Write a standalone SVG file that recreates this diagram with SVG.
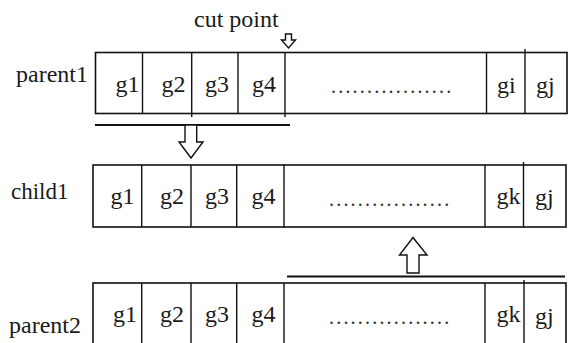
<svg xmlns="http://www.w3.org/2000/svg" width="570" height="343" viewBox="0 0 570 343">
<style>
.box{fill:#fff;stroke:#111;stroke-width:1.6}
.div{stroke:#111;stroke-width:1.4}
.bar{stroke:#111;stroke-width:2}
.arr{fill:#fff;stroke:#111;stroke-width:1.4;stroke-linejoin:miter}
</style>
<rect width="570" height="343" fill="#fff"/>
<g id="cutpoint">
<text x="194" y="27" font-family="Liberation Serif" font-size="24" fill="#1a1a1a">cut point</text>
<path class="arr" d="M285.5,34 H291.5 V40 H295.5 L288.5,48 L281.5,40 H285.5 Z"/>
</g>
<g id="parent1">
<text x="16" y="82" font-family="Liberation Serif" font-size="24" fill="#1a1a1a">parent1</text>
<rect class="box" x="95.5" y="52.5" width="471.5" height="61"/>
<line class="div" x1="142.5" y1="52.5" x2="142.5" y2="113.5"/>
<line class="div" x1="191.7" y1="52.5" x2="191.7" y2="117"/>
<line class="div" x1="238" y1="52.5" x2="238" y2="113.5"/>
<line class="div" x1="285" y1="52.5" x2="285" y2="117"/>
<line class="div" x1="486.5" y1="52.5" x2="486.5" y2="113.5"/>
<line class="div" x1="525" y1="49" x2="525" y2="113.5"/>
<text x="115.5" y="92" font-family="Liberation Serif" font-size="24" fill="#1a1a1a">g1</text>
<text x="161.5" y="92" font-family="Liberation Serif" font-size="24" fill="#1a1a1a">g2</text>
<text x="205" y="92" font-family="Liberation Serif" font-size="24" fill="#1a1a1a">g3</text>
<text x="252" y="92" font-family="Liberation Serif" font-size="24" fill="#1a1a1a">g4</text>
<text x="331" y="93" font-family="Liberation Serif" font-size="20" letter-spacing="2.2" fill="#333">.................</text>
<text x="497" y="93" font-family="Liberation Serif" font-size="24" fill="#1a1a1a">gi</text>
<text x="536" y="93" font-family="Liberation Serif" font-size="24" fill="#1a1a1a">gj</text>
</g>
<g id="child1">
<text x="11" y="199" font-family="Liberation Serif" font-size="23" fill="#1a1a1a">child1</text>
<rect class="box" x="93" y="165" width="473" height="62"/>
<line class="div" x1="141.7" y1="165" x2="141.7" y2="227"/>
<line class="div" x1="191" y1="165" x2="191" y2="227"/>
<line class="div" x1="236.7" y1="165" x2="236.7" y2="227"/>
<line class="div" x1="284" y1="165" x2="284" y2="227"/>
<line class="div" x1="485" y1="165" x2="485" y2="227"/>
<line class="div" x1="523.5" y1="162" x2="523.5" y2="227"/>
<text x="110.5" y="204" font-family="Liberation Serif" font-size="24" fill="#1a1a1a">g1</text>
<text x="160" y="204" font-family="Liberation Serif" font-size="24" fill="#1a1a1a">g2</text>
<text x="205" y="204" font-family="Liberation Serif" font-size="24" fill="#1a1a1a">g3</text>
<text x="251.5" y="204" font-family="Liberation Serif" font-size="24" fill="#1a1a1a">g4</text>
<text x="329" y="206" font-family="Liberation Serif" font-size="20" letter-spacing="2.2" fill="#333">.................</text>
<text x="496.5" y="204" font-family="Liberation Serif" font-size="24" fill="#1a1a1a">gk</text>
<text x="535" y="205" font-family="Liberation Serif" font-size="24" fill="#1a1a1a">gj</text>
</g>
<g id="parent2">
<text x="9" y="333" font-family="Liberation Serif" font-size="24" fill="#1a1a1a">parent2</text>
<rect class="box" x="93" y="283" width="473" height="64"/>
<line class="div" x1="141.7" y1="283" x2="141.7" y2="347"/>
<line class="div" x1="191" y1="283" x2="191" y2="347"/>
<line class="div" x1="236.7" y1="283" x2="236.7" y2="347"/>
<line class="div" x1="284" y1="283" x2="284" y2="347"/>
<line class="div" x1="485" y1="283" x2="485" y2="347"/>
<line class="div" x1="524" y1="280" x2="524" y2="347"/>
<text x="113" y="322" font-family="Liberation Serif" font-size="24" fill="#1a1a1a">g1</text>
<text x="160" y="322" font-family="Liberation Serif" font-size="24" fill="#1a1a1a">g2</text>
<text x="205" y="322" font-family="Liberation Serif" font-size="24" fill="#1a1a1a">g3</text>
<text x="251.5" y="322" font-family="Liberation Serif" font-size="24" fill="#1a1a1a">g4</text>
<text x="329" y="324" font-family="Liberation Serif" font-size="20" letter-spacing="2.2" fill="#333">.................</text>
<text x="496.5" y="322" font-family="Liberation Serif" font-size="24" fill="#1a1a1a">gk</text>
<text x="535" y="324" font-family="Liberation Serif" font-size="24" fill="#1a1a1a">gj</text>
</g>
<g id="connectors">
<line class="bar" x1="95" y1="125" x2="290" y2="125"/>
<path class="arr" d="M185,125 H196.7 V142 H203 L191,158 L179,142 H185 Z"/>
<line class="bar" x1="287" y1="276.5" x2="565" y2="276.5"/>
<path class="arr" d="M407,273 H419 V255 H427 L413,237.5 L399.5,255 H407 Z"/>
</g>
</svg>
